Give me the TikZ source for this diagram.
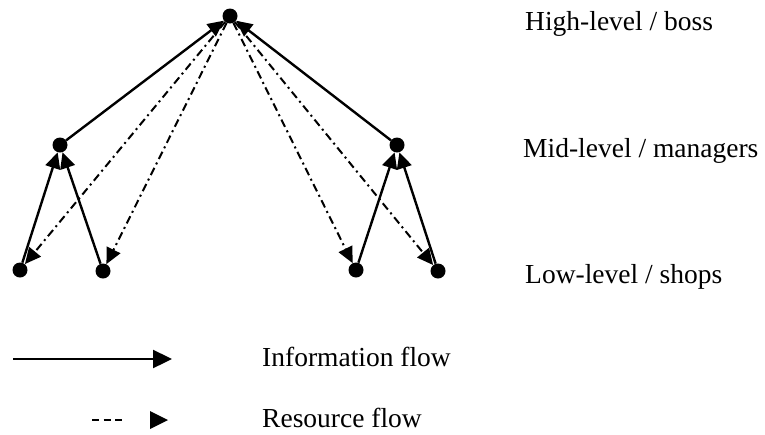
\documentclass[tikz,border=0pt]{standalone}
\usepackage{fontspec}
\setmainfont{Liberation Serif}
\usetikzlibrary{arrows.meta}
\begin{document}
\begin{tikzpicture}[x=1pt,y=-1pt,>={Triangle[length=16pt,width=15pt]},line join=round,
	font=\fontsize{27.5}{32}\selectfont,
	post/.style={circle,fill=black,inner sep=0pt,minimum size=15pt},
	infoflow/.style={->,line width=2.4pt},
	resflow/.style={->,line width=2pt,dash pattern=on 8pt off 4pt on 2pt off 4pt},
	lvl/.style={anchor=base west,inner sep=0pt}]
	\useasboundingbox (0,0) rectangle (765,434);
	\path
	(230,16) node[post] (B) {}
	(60,145) node[post] (M1) {}
	(397,145) node[post] (M2) {}
	(20,270) node[post] (L1) {}
	(103,271) node[post] (L2) {}
	(356,270) node[post] (L3) {}
	(438,271) node[post] (L4) {}
	;
	\foreach \x in {M1,M2}\draw[infoflow] (\x)--(B);
	\foreach \x/\y in {L1/M1,L2/M1,L3/M2,L4/M2}\draw[infoflow] (\x)--(\y);
	\foreach \x in {L1,L2,L3,L4}\draw[resflow] (B)--(\x);
	% levels
	\path (525,30) node[lvl] (tB) {High-level / boss}
	(523,157) node[lvl] (tM) {Mid-level / managers}
	(525,283) node[lvl] (tL) {Low-level / shops};
	% legend
	\path (13,359) coordinate (I1) (172,359) coordinate (I2)
	(92,420) coordinate (R1) (122,420) coordinate (R2);
	\draw[line width=2.4pt,-{Triangle[length=19pt,width=18pt]}] (I1)--(I2);
	\draw[line width=1.4pt,dash pattern=on 7pt off 4.5pt] (R1)--(R2);
	\fill (150,411) -- (168,420) -- (150,429) -- cycle;
	\path (262,366) node[lvl] (tI) {Information flow}
	(262,427) node[lvl] (tR) {Resource flow};
\end{tikzpicture}
\end{document}
